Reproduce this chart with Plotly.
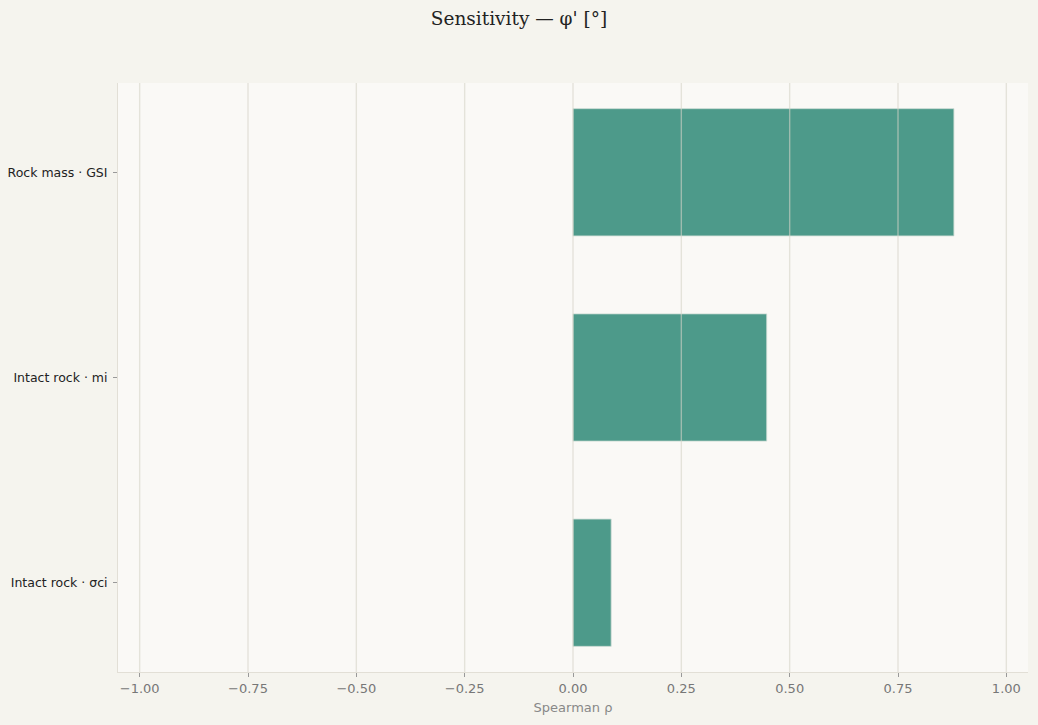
import plotly.graph_objects as go

# Spearman rank correlation of each input with phi'
params = ["Intact rock · σci", "Intact rock · mi", "Rock mass · GSI"]
rho = [0.088, 0.447, 0.879]
x_ticks = [-1.0, -0.75, -0.5, -0.25, 0.0, 0.25, 0.5, 0.75, 1.0]

fig = go.Figure()
fig.add_trace(
    go.Bar(
        x=rho,
        y=params,
        orientation="h",
        width=0.62,
        marker=dict(color="#4d9a8a", line=dict(color="#c9d9d2", width=0.8)),
        hoverinfo="x+y",
    )
)

# grid drawn over the bars, as in the original
for v in x_ticks:
    fig.add_shape(
        type="line",
        xref="x",
        yref="paper",
        x0=v,
        x1=v,
        y0=0,
        y1=1,
        layer="above",
        line=dict(color="rgba(214,211,200,0.6)", width=1.4),
    )

fig.update_layout(
    title=dict(
        text="Sensitivity — φ' [°]",
        x=0.5,
        xanchor="center",
        y=0.974,
        yanchor="middle",
        font=dict(family="DejaVu Serif", size=18.5, color="#222222"),
    ),
    paper_bgcolor="#f5f4ee",
    plot_bgcolor="#faf9f6",
    margin=dict(l=118, r=10, t=83, b=53),
    width=1038,
    height=725,
    showlegend=False,
    font=dict(family="DejaVu Sans", size=12, color="#222222"),
)

fig.update_xaxes(
    range=[-1.05, 1.05],
    tickvals=x_ticks,
    tickformat=".2f",
    showgrid=False,
    zeroline=False,
    showline=True,
    linecolor="#e2dfd6",
    linewidth=1,
    ticks="outside",
    ticklen=4,
    tickcolor="#999999",
    tickfont=dict(color="#777777", size=13),
    title=dict(text="Spearman ρ", font=dict(color="#888888", size=13), standoff=8),
)
fig.update_yaxes(
    type="category",
    categoryorder="array",
    categoryarray=params,
    range=[-0.435, 2.435],
    automargin=False,
    showgrid=False,
    zeroline=False,
    showline=True,
    linecolor="#e2dfd6",
    linewidth=1,
    ticks="outside",
    ticklen=4,
    tickcolor="#999999",
    ticklabelstandoff=3,
    tickfont=dict(color="#222222", size=12.5),
)

fig.write_html(
    "out.html",
    config={"displayModeBar": False},
    post_script="document.body.style.margin='0';document.body.style.background='#f5f4ee';",
)
